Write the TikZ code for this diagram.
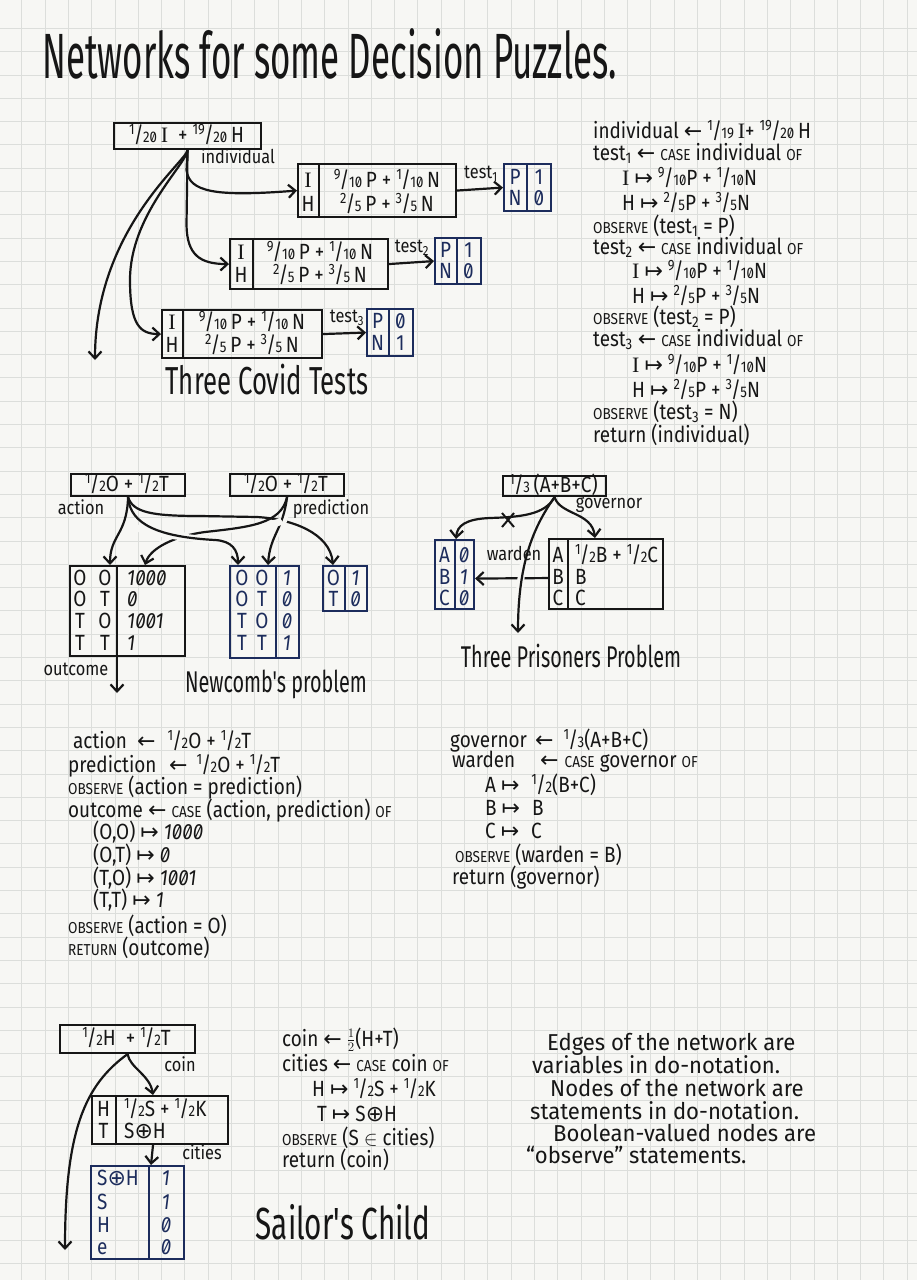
\documentclass[tikz,border=0pt]{standalone}
\usepackage{fontspec}
\setmainfont{Fira Sans}
\newfontfamily\hand[FakeStretch=0.86,RawFeature=+zero]{Fira Sans}
\newfontfamily\handp[FakeStretch=0.96]{Fira Sans}
\newfontfamily\handt[FakeStretch=0.66]{Fira Sans}
\newfontfamily\handT[FakeStretch=0.545]{Fira Sans}
\newfontfamily\sym{DejaVu Sans}
\newfontfamily\serifI{Liberation Serif}
\usetikzlibrary{arrows.meta,calc}
\definecolor{ink}{HTML}{161616}
\definecolor{blueink}{HTML}{1C2C5C}
\definecolor{paper}{HTML}{F7F7F4}
\definecolor{gridc}{HTML}{DCDEDB}
\newcommand\fr[2]{\raisebox{0pt}[0.72em][0pt]{\raisebox{0.36em}{\scalebox{0.68}{#1}}\kern-0.04em/\kern-0.02em\scalebox{0.7}{#2}}}
\newcommand\kw[1]{\scalebox{0.72}{#1}}
\newcommand\I{{\serifI I}}
\newcommand\la{\raisebox{0pt}[0.55em][0pt]{\sym ←}}
\newcommand\mt{\raisebox{0pt}[0.55em][0pt]{\sym ↦}}
\newcommand\op{\raisebox{0pt}[0.7em][0pt]{\sym ⊕}}
\newcommand\sub[1]{\textsubscript{#1}}
\tikzset{
  box/.style={draw=ink, line width=2.1pt, rectangle, inner sep=0pt, anchor=north west},
  obox/.style={box, draw=blueink},
  div/.style={draw=ink, line width=2.1pt},
  bdiv/.style={draw=blueink, line width=2.1pt},
  tt/.style={font=\hand\fontsize{22}{22}\selectfont, text=ink, inner sep=0pt, anchor=base, yshift=-7.5pt},
  btt/.style={tt, text=blueink},
  lab/.style={font=\hand\fontsize{19}{19}\selectfont, text=ink, inner sep=0pt, anchor=mid},
  code/.style={font=\hand\fontsize{22}{22}\selectfont, text=ink, inner sep=0pt, anchor=base west},
  para/.style={font=\handp\fontsize{23}{23}\selectfont, text=ink, inner sep=0pt, anchor=base west},
  ttl/.style={text=ink, inner sep=0pt, anchor=mid},
  arr/.style={draw=ink, line width=2.2pt, -{Straight Barb[length=7pt,width=13pt]}},
  ln/.style={draw=ink, line width=2pt},
  gap/.style={preaction={draw=paper, line width=7pt, -, shorten <=#1, shorten >=10pt}}
}
\begin{document}
\begin{tikzpicture}[x=1pt,y=-1pt]
\useasboundingbox (0,0) rectangle (917,1280);
\fill[paper] (0,0) rectangle (917,1280);
\foreach \i in {0,...,38} {\draw[gridc, line width=0.8pt] ({21.7+23.3*\i},0) -- ({21.7+23.3*\i},1280);}
\foreach \j in {0,...,54} {\draw[gridc, line width=0.8pt] (0,{28.3+23.3*\j}) -- (917,{28.3+23.3*\j});}

% ---------- title
\node[font=\handT\fontsize{64}{64}\selectfont, text=ink, inner sep=0pt, anchor=base west] (title) at (42,78) {Networks for some Decision Puzzles.};

% ---------- Three Covid Tests
\node[box, minimum width=147pt, minimum height=26pt] (ct) at (113,122) {};
\node[tt] (ctt) at (186.5,135) {\fr{1}{20}\,\I\ \ +\ \fr{19}{20}\,H};

\node[box, minimum width=158pt, minimum height=53pt] (c1) at (297,163) {};
\draw[div] (319,163) -- (319,216);
\node[tt] (c1i) at (308,180) {\I};
\node[tt] (c1h) at (308,204) {H};
\node[tt] (c1a) at (387,180) {\fr{9}{10}\,P + \fr{1}{10}\,N};
\node[tt] (c1b) at (387,204) {\fr{2}{5}\,P + \fr{3}{5}\,N};
\node[obox, minimum width=47pt, minimum height=47pt] (r1) at (503,163) {};
\draw[bdiv] (527,163) -- (527,210);
\node[btt] (r1p) at (515,177) {P};
\node[btt] (r1n) at (515,198) {N};
\node[btt] (r1v) at (539,177) {1};
\node[btt] (r1w) at (539,198) {0};

\node[box, minimum width=158pt, minimum height=50pt] (c2) at (229,238) {};
\draw[div] (253,238) -- (253,288);
\node[tt] (c2i) at (241,252) {\I};
\node[tt] (c2h) at (241,275) {H};
\node[tt] (c2a) at (320,252) {\fr{9}{10}\,P + \fr{1}{10}\,N};
\node[tt] (c2b) at (320,275) {\fr{2}{5}\,P + \fr{3}{5}\,N};
\node[obox, minimum width=46pt, minimum height=46pt] (r2) at (434,237) {};
\draw[bdiv] (457,237) -- (457,283);
\node[btt] (r2p) at (445.5,250) {P};
\node[btt] (r2n) at (445.5,271) {N};
\node[btt] (r2v) at (468.5,250) {1};
\node[btt] (r2w) at (468.5,271) {0};

\node[box, minimum width=160pt, minimum height=48pt] (c3) at (161,309) {};
\draw[div] (183,309) -- (183,357);
\node[tt] (c3i) at (172,322) {\I};
\node[tt] (c3h) at (172,345) {H};
\node[tt] (c3a) at (252,322) {\fr{9}{10}\,P + \fr{1}{10}\,N};
\node[tt] (c3b) at (252,345) {\fr{2}{5}\,P + \fr{3}{5}\,N};
\node[obox, minimum width=46pt, minimum height=47pt] (r3) at (366,308) {};
\draw[bdiv] (389,308) -- (389,355);
\node[btt] (r3p) at (377.5,321) {P};
\node[btt] (r3n) at (377.5,343) {N};
\node[btt] (r3v) at (400.5,321) {0};
\node[btt] (r3w) at (400.5,343) {1};

\coordinate (cend) at (95,360);
\draw[arr] (ct.south) -- (186.5,170) .. controls (189,192) and (215,197) .. (c1.west);
\draw[arr] (ct.south) -- (186.5,225) .. controls (187,255) and (200,264) .. (c2.west);
\draw[arr] (ct.south) .. controls (186,165) and (130,215) .. (130,280) .. controls (130,325) and (140,334) .. (c3.west);
\draw[arr] (ct.south) .. controls (186,162) and (95,230) .. (cend);
\draw[arr] (c1.east) -- (r1.west);
\draw[arr] (c2.east) -- (r2.west);
\draw[arr] (c3.east) -- (r3.west);
\node[lab] (lind) at (238,161) {individual};
\node[lab] (lt1) at (481,176) {test\sub{1}};
\node[lab] (lt2) at (412,250) {test\sub{2}};
\node[lab] (lt3) at (347,320) {test\sub{3}};
\node[ttl, font=\handt\fontsize{39}{39}\selectfont] (tcovid) at (267,392) {Three Covid Tests};

% ---------- Covid code
\node[code] (k1) at (593,138) {individual \la\ \fr{1}{19}\,\I + \fr{19}{20}\,H};
\node[code] (k2) at (593,160) {test\sub{1} \la\ \kw{CASE} individual \kw{OF}};
\node[code] (k3) at (622,185) {\I\ \mt\ \fr{9}{10}P + \fr{1}{10}N};
\node[code] (k4) at (622,210) {H \mt\ \fr{2}{5}P + \fr{3}{5}N};
\node[code] (k5) at (593,233) {\kw{OBSERVE} (test\sub{1} = P)};
\node[code] (k6) at (593,254) {test\sub{2} \la\ \kw{CASE} individual \kw{OF}};
\node[code] (k7) at (632,278) {\I\ \mt\ \fr{9}{10}P + \fr{1}{10}N};
\node[code] (k8) at (632,303) {H \mt\ \fr{2}{5}P + \fr{3}{5}N};
\node[code] (k9) at (593,324) {\kw{OBSERVE} (test\sub{2} = P)};
\node[code] (k10) at (593,346) {test\sub{3} \la\ \kw{CASE} individual \kw{OF}};
\node[code] (k11) at (632,372) {\I\ \mt\ \fr{9}{10}P + \fr{1}{10}N};
\node[code] (k12) at (632,397) {H \mt\ \fr{2}{5}P + \fr{3}{5}N};
\node[code] (k13) at (593,419) {\kw{OBSERVE} (test\sub{3} = N)};
\node[code] (k14) at (593,442) {return (individual)};

% ---------- Newcomb
\node[box, minimum width=114pt, minimum height=22pt] (na) at (70,473) {};
\node[tt] (nat) at (127,484) {\fr12O + \fr12T};
\node[box, minimum width=114pt, minimum height=22pt] (np) at (229,473) {};
\node[tt] (npt) at (286,484) {\fr12O + \fr12T};

\node[box, minimum width=115pt, minimum height=90pt] (no) at (69,565) {};
\draw[div] (117,565) -- (117,655);
\foreach \y/\a/\b/\v in {578/O/O/1000, 599/O/T/0, 621/T/O/1001, 643/T/T/1} {
  \node[tt] at (80,\y) {\a}; \node[tt] at (105,\y) {\b};
  \node[tt, anchor=base west] at (127,\y) {\itshape\v};
}
\node[obox, minimum width=69pt, minimum height=92pt] (nob) at (229,565) {};
\draw[bdiv] (276,565) -- (276,657);
\foreach \y/\a/\b/\v in {578/O/O/1, 599/O/T/0, 621/T/O/0, 643/T/T/1} {
  \node[btt] at (242,\y) {\a}; \node[btt] at (262,\y) {\b};
  \node[btt] at (287,\y) {\itshape\v};
}
\node[obox, minimum width=44pt, minimum height=45pt] (nt) at (322,565) {};
\draw[bdiv] (345,565) -- (345,610);
\node[btt] (nt1) at (333.5,578) {O};
\node[btt] (nt2) at (333.5,599) {T};
\node[btt] (nt3) at (355.5,578) {\itshape 1};
\node[btt] (nt4) at (355.5,599) {\itshape 0};

\coordinate (nout) at (117,693);
\draw[arr] (na.south) .. controls (127,535) and (110,535) .. ($(no.north west)+(41,0)$);
\draw[arr] (na.south) .. controls (133,512) and (150,516) .. (200,516) -- (257,517) .. controls (292,519) and (330,533) .. ($(nt.north west)+(11,0)$);
\draw[arr, gap=18pt] (np.south) .. controls (283,530) and (270,535) .. ($(nob.north west)+(39,0)$);
\draw[arr, gap=24pt] (np.south) .. controls (281,524) and (250,527) .. (205,532) .. controls (175,536) and (150,548) .. ($(no.north west)+(76,0)$);
\draw[arr, gap=30pt] (na.south) .. controls (130,525) and (160,537) .. (215,540) .. controls (232,541) and (238,550) .. ($(nob.north west)+(9,0)$);
\draw[arr] ($(no.south west)+(48,0)$) -- (nout);
\node[lab] (lact) at (81,512) {action};
\node[lab] (lpred) at (331,512) {prediction};
\node[lab] (lout) at (76,673) {outcome};
\node[ttl, font=\handt\fontsize{30}{30}\selectfont] (tnew) at (276,690) {Newcomb's problem};

% ---------- Newcomb code
\node[code] (m1) at (73,748) {\makebox[64pt][l]{action}\la\hspace{12pt}\fr12O + \fr12T};
\node[code] (m2) at (68,772) {\makebox[101pt][l]{prediction}\la\hspace{9pt}\fr12O + \fr12T};
\node[code] (m3) at (68,794) {\kw{OBSERVE} (action = prediction)};
\node[code] (m4) at (68,817) {outcome \la\ \kw{CASE} (action, prediction) \kw{OF}};
\node[code] (m5) at (93,839) {(O,O) \mt\ {\itshape 1000}};
\node[code] (m6) at (93,862) {(O,T) \mt\ {\itshape 0}};
\node[code] (m7) at (93,885) {(T,O) \mt\ {\itshape 1001}};
\node[code] (m8) at (93,907) {(T,T) \mt\ {\itshape 1}};
\node[code] (m9) at (68,933) {\kw{OBSERVE} (action = O)};
\node[code] (m10) at (68,955) {\kw{RETURN} (outcome)};

% ---------- Three Prisoners
\node[box, minimum width=103pt, minimum height=20pt] (pg) at (502,475) {};
\node[tt] (pgt) at (553.5,485) {\fr13\,(A+B+C)};
\node[box, minimum width=114pt, minimum height=70pt] (pw) at (548,538) {};
\draw[div] (568,538) -- (568,608);
\node[tt] (pwa) at (558,555) {A};
\node[tt] (pwb) at (558,577) {B};
\node[tt] (pwc) at (558,598) {C};
\node[tt, anchor=base west] (pwa2) at (575,555) {\fr12B + \fr12C};
\node[tt, anchor=base west] (pwb2) at (575,577) {B};
\node[tt, anchor=base west] (pwc2) at (575,598) {C};
\node[obox, minimum width=39pt, minimum height=69pt] (po) at (434,539) {};
\draw[bdiv] (455,539) -- (455,608);
\node[btt] (poa) at (444.5,555) {A};
\node[btt] (pob) at (444.5,577) {B};
\node[btt] (poc) at (444.5,598) {C};
\node[btt] (poa2) at (464,555) {\itshape 0};
\node[btt] (pob2) at (464,577) {\itshape 1};
\node[btt] (poc2) at (464,598) {\itshape 0};
\coordinate (pend) at (518,633);
\draw[arr] (pg.south) .. controls (560,515) and (592,512) .. ($(pw.north west)+(47,0)$);
\draw[arr] (pg.south) .. controls (545,515) and (520,517) .. (490,518) .. controls (465,519) and (457,526) .. ($(po.north west)+(22,0)$);
\draw[ln] (502,513) -- (514,527) (514,513) -- (502,527);
\draw[arr] ($(pw.west)+(0,4)$) -- ($(po.east)+(0,4)$);
\draw[arr, gap=40pt] (pg.south) .. controls (535,525) and (518,560) .. (pend);
\node[lab] (lgov) at (609,506) {governor};
\node[lab] (lward) at (514,558) {warden};
\node[ttl, font=\handt\fontsize{30}{30}\selectfont] (tpris) at (571,665) {Three Prisoners Problem};

% ---------- Prisoners code
\node[code] (q1) at (450,747) {\makebox[85pt][l]{governor}\la\hspace{10pt}\fr13(A+B+C)};
\node[code] (q2) at (452,767) {\makebox[88pt][l]{warden}\la\hspace{6pt}\kw{CASE} governor \kw{OF}};
\node[code] (q3) at (485,792) {A \mt\hspace{12pt}\fr12(B+C)};
\node[code] (q4) at (485,815) {B \mt\hspace{12pt}B};
\node[code] (q5) at (485,838) {C \mt\hspace{12pt}C};
\node[code] (q6) at (455,862) {\kw{OBSERVE} (warden = B)};
\node[code] (q7) at (452,884) {return (governor)};

% ---------- Sailor's Child
\node[box, minimum width=135pt, minimum height=28pt] (sc) at (59,1024) {};
\node[tt] (sct0) at (126.5,1038) {\fr12H \ +\ \fr12T};
\node[box, minimum width=136pt, minimum height=48pt] (sct) at (91,1095) {};
\draw[div] (116,1095) -- (116,1143);
\node[tt] (scth) at (103.5,1109) {H};
\node[tt] (sctt) at (103.5,1131) {T};
\node[tt, anchor=base west] (scth2) at (124,1109) {\fr12S + \fr12K};
\node[tt, anchor=base west] (sctt2) at (124,1131) {S\op H};
\node[obox, minimum width=93pt, minimum height=93pt] (so) at (90,1165) {};
\draw[bdiv] (149,1165) -- (149,1258);
\foreach \y/\a/\v in {1178/S\op H/1, 1202/S/1, 1225/H/0, 1247/e/0} {
  \node[btt, anchor=base west] at (97,\y) {\a};
  \node[btt] at (166,\y) {\itshape\v};
}
\coordinate (send) at (65,1250);
\draw[arr] (sc.south) .. controls (130,1068) and (150,1075) .. ($(sct.north west)+(62,0)$);
\draw[arr] (sc.south) .. controls (85,1085) and (65,1130) .. (send);
\draw[arr] ($(sct.south west)+(62,0)$) -- ($(so.north west)+(61,0)$);
\node[lab] (lcoin) at (180,1069) {coin};
\node[lab] (lcit) at (202,1157) {cities};
\node[ttl, font=\handt\fontsize{45}{45}\selectfont] (tsail) at (343,1237) {Sailor's Child};

% ---------- Sailor code
\node[code] (s1) at (282,1046) {coin \la\ \raisebox{0.05em}{\scalebox{0.9}{$\frac{1}{2}$}}(H+T)};
\node[code] (s2) at (282,1071) {cities \la\ \kw{CASE} coin \kw{OF}};
\node[code] (s3) at (312,1096) {H \mt\ \fr12S + \fr12K};
\node[code] (s4) at (317,1121) {T \mt\ S\op H};
\node[code] (s5) at (282,1145) {\kw{OBSERVE} (S $\in$ cities)};
\node[code] (s6) at (282,1167) {return (coin)};

% ---------- Remarks
\node[para] (e1) at (547,1050) {Edges of the network are};
\node[para] (e2) at (532,1073) {variables in do-notation.};
\node[para] (e3) at (550,1096) {Nodes of the network are};
\node[para] (e4) at (530,1119) {statements in do-notation.};
\node[para] (e5) at (553,1141) {Boolean-valued nodes are};
\node[para] (e6) at (526,1163) {“observe” statements.};
\end{tikzpicture}
\end{document}
